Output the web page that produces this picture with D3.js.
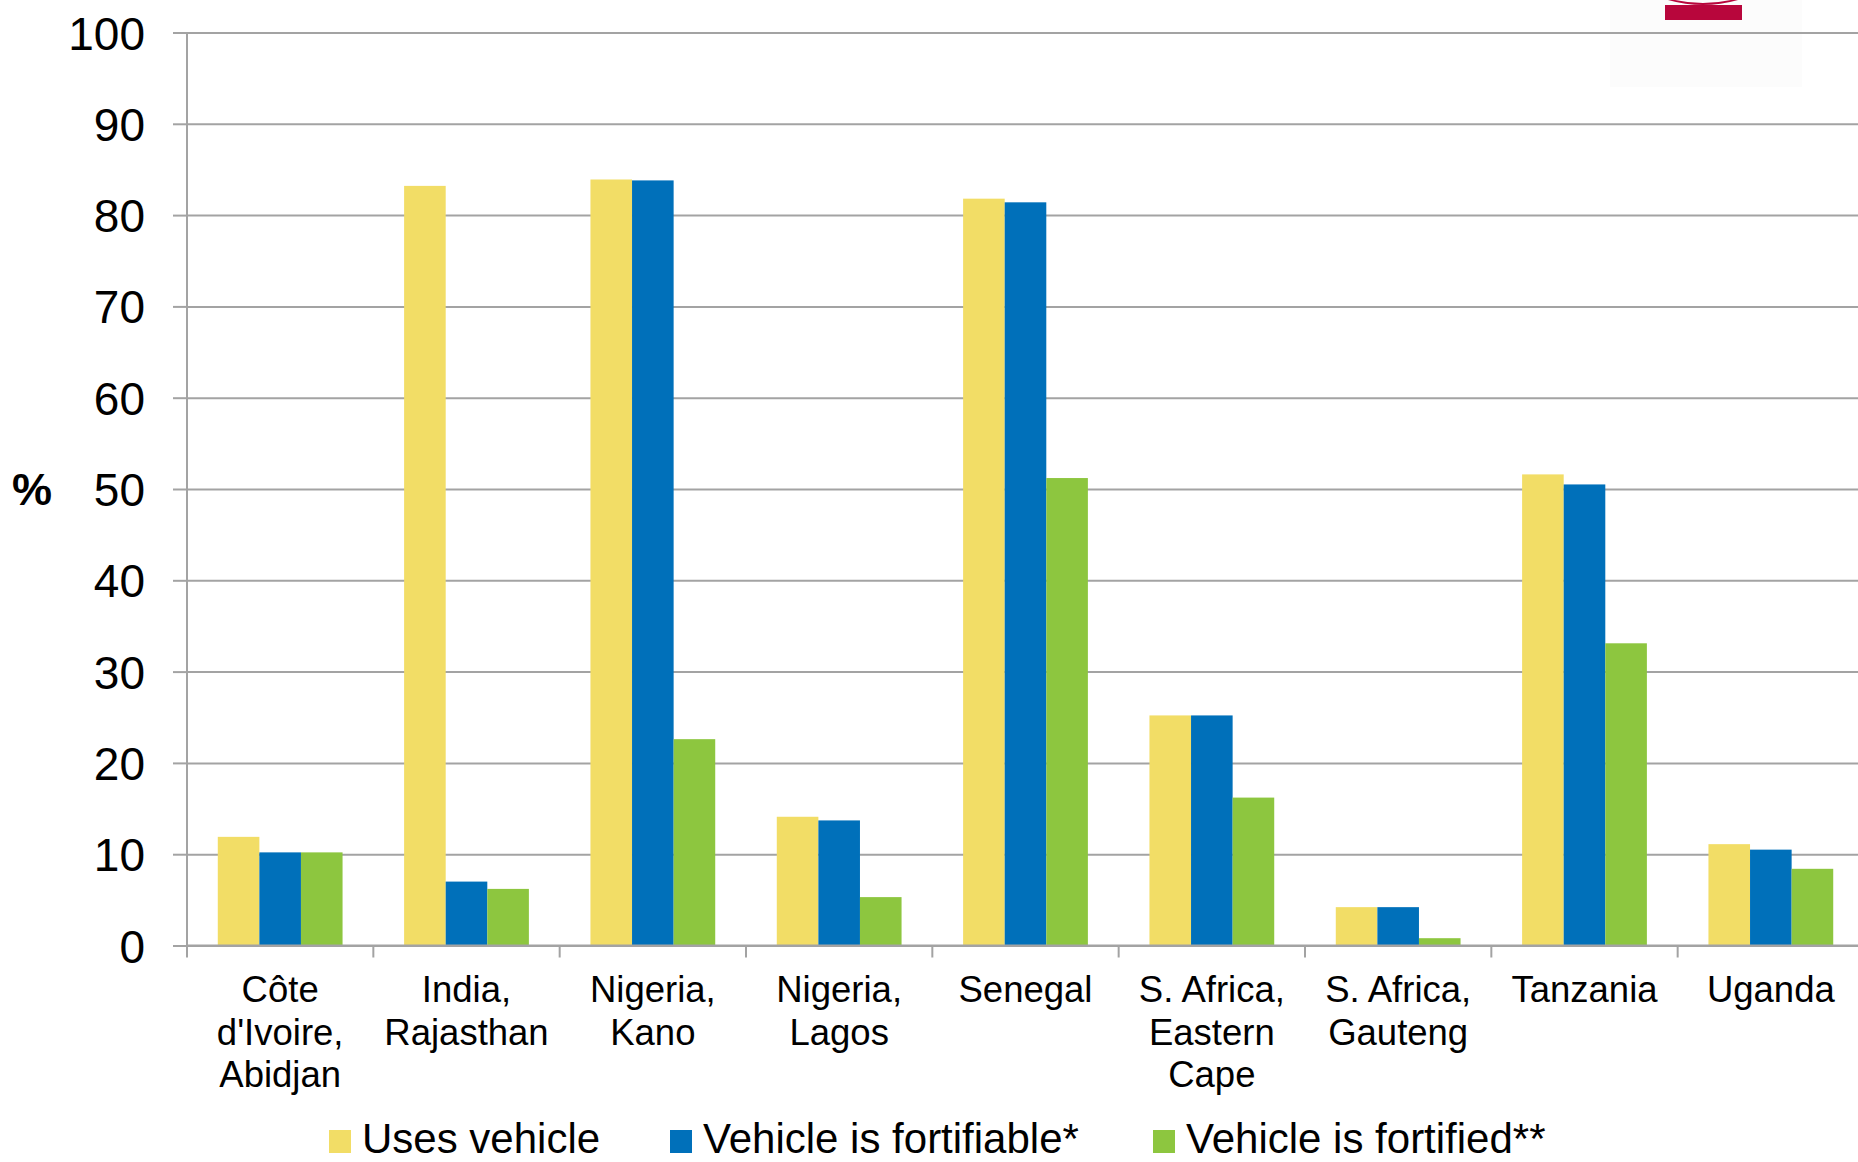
<!DOCTYPE html>
<html>
<head>
<meta charset="utf-8">
<script src="https://cdn.jsdelivr.net/npm/d3@7"></script>
<style>
  html, body { margin: 0; padding: 0; background: #fff; }
  svg { display: block; font-family: "Liberation Sans", Arial, sans-serif; }
</style>
</head>
<body>
<div class="chart"></div>
<script>
// data
const categories = ['Côte d\'Ivoire, Abidjan', 'India, Rajasthan', 'Nigeria, Kano', 'Nigeria, Lagos',
                    'Senegal', 'S. Africa, Eastern Cape', 'S. Africa, Gauteng', 'Tanzania', 'Uganda'];
const categoryLines = [
    ['Côte', 'd\'Ivoire,', 'Abidjan'],
    ['India,', 'Rajasthan'],
    ['Nigeria,', 'Kano'],
    ['Nigeria,', 'Lagos'],
    ['Senegal'],
    ['S. Africa,', 'Eastern', 'Cape'],
    ['S. Africa,', 'Gauteng'],
    ['Tanzania'],
    ['Uganda']
];
const seriesNames = ['Uses vehicle', 'Vehicle is fortifiable*', 'Vehicle is fortified**'];
const seriesColors = ['#f2dd66', '#0070ba', '#8dc63f'];
const usesVehicle = [11.9, 83.2, 83.9, 14.1, 81.8, 25.2, 4.2, 51.6, 11.1];
const fortifiable = [10.2, 7.0, 83.8, 13.7, 81.4, 25.2, 4.2, 50.5, 10.5];
const fortified   = [10.2, 6.2, 22.6, 5.3, 51.2, 16.2, 0.8, 33.1, 8.4];
const yTicks = [0, 10, 20, 30, 40, 50, 60, 70, 80, 90, 100];

const width = 1858, height = 1162;
const plot = {left: 187, right: 1864, top: 32.5, bottom: 945.5};
const gridColor = '#a3a3a3';

const svg = d3.select('.chart').append('svg')
    .attr('width', width).attr('height', height);

// faint logo backdrop, top right
svg.append('rect').attr('x', 1610).attr('y', 0).attr('width', 192).attr('height', 87)
   .attr('fill', '#fcfcfc');

const x = d3.scaleBand().domain(categories).range([plot.left, plot.right]);
const xInner = d3.scaleBand().domain(seriesNames).range([0, x.bandwidth()]).paddingOuter(0.74);
const y = d3.scaleLinear().domain([0, 100]).range([plot.bottom, plot.top]);

// gridlines
svg.append('g')
   .attr('class', 'grid')
   .attr('transform', `translate(${plot.left},0)`)
   .call(d3.axisLeft(y).tickValues(yTicks).tickSize(-(width - plot.left)).tickFormat(''))
   .call(g => g.select('.domain').remove())
   .call(g => g.selectAll('line').attr('stroke', gridColor).attr('stroke-width', 2));

// y axis labels + outer ticks
svg.append('g')
   .attr('class', 'yaxis')
   .attr('transform', `translate(${plot.left},0)`)
   .call(d3.axisLeft(y).tickValues(yTicks).tickSize(14).tickPadding(28))
   .call(g => g.select('.domain').remove())
   .call(g => g.selectAll('line').attr('stroke', gridColor).attr('stroke-width', 2))
   .call(g => g.selectAll('text')
       .attr('dy', '0.36em')
       .style('font-size', '46px')
       .style('font-family', '"Liberation Sans", Arial, sans-serif')
       .attr('fill', '#000'));

svg.append('line')
   .attr('x1', plot.left).attr('x2', plot.left)
   .attr('y1', y(100)).attr('y2', y(0) + 12)
   .attr('stroke', gridColor).attr('stroke-width', 2);

svg.append('text')
   .attr('x', 32).attr('y', y(50) + 16)
   .attr('text-anchor', 'middle')
   .style('font-size', '45px').style('font-weight', 'bold')
   .text('%');

// bars
const seriesValues = [usesVehicle, fortifiable, fortified];
const barGroups = svg.append('g').attr('class', 'bars')
    .selectAll('g').data(seriesNames).enter().append('g')
    .attr('fill', (d, i) => seriesColors[i]);

barGroups.selectAll('rect')
    .data((s, i) => categories.map((c, j) => ({cat: c, series: s, value: seriesValues[i][j]})))
    .enter().append('rect')
    .attr('x', d => x(d.cat) + xInner(d.series))
    .attr('width', xInner.bandwidth())
    .attr('y', d => y(d.value))
    .attr('height', d => y(0) - y(d.value));

// x axis baseline and category ticks
const xAxis = svg.append('g').attr('class', 'xaxis');
xAxis.append('line')
   .attr('x1', plot.left).attr('x2', width)
   .attr('y1', y(0)).attr('y2', y(0))
   .attr('stroke', gridColor).attr('stroke-width', 2);
xAxis.selectAll('.xtick')
   .data(categories.slice(1))
   .enter().append('line')
   .attr('class', 'xtick')
   .attr('x1', d => x(d)).attr('x2', d => x(d))
   .attr('y1', y(0)).attr('y2', y(0) + 12)
   .attr('stroke', gridColor).attr('stroke-width', 2);

const labels = xAxis.selectAll('.xlabel')
   .data(categories)
   .enter().append('text')
   .attr('class', 'xlabel')
   .attr('text-anchor', 'middle')
   .style('font-size', '36.5px');
labels.selectAll('tspan')
   .data((d, i) => categoryLines[i].map(t => ({t, c: d})))
   .enter().append('tspan')
   .attr('x', d => x(d.c) + x.bandwidth() / 2)
   .attr('y', (d, i) => 1002 + i * 42.5)
   .text(d => d.t);

// legend (kept just inside the bottom edge)
const legendX = [329, 670, 1153];
const legend = svg.append('g').attr('class', 'legend')
   .selectAll('g').data(seriesNames).enter().append('g')
   .attr('transform', (d, i) => `translate(${legendX[i]},1130)`);
legend.append('rect')
   .attr('width', 22).attr('height', 23)
   .attr('fill', (d, i) => seriesColors[i]);
legend.append('text')
   .attr('x', 33).attr('y', 23)
   .style('font-size', '42px')
   .text(d => d);

// partial logo at the top right (cut off by the frame)
const logo = svg.append('g').attr('fill', '#b8063c');
logo.append('rect').attr('x', 1665).attr('y', 5).attr('width', 77).attr('height', 15);
logo.append('path')
   .attr('d', 'M1668,0 Q1703,10 1738,0 L1731,0 Q1703,6 1675,0 Z');
</script>
</body>
</html>
